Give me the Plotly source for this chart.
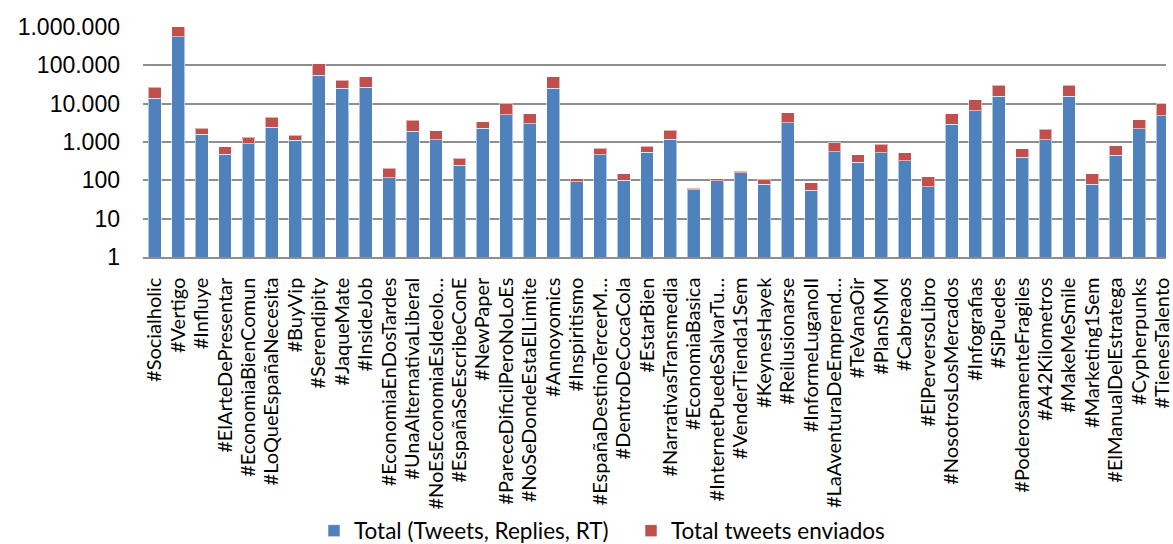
import plotly.graph_objects as go

# Hashtags on the category axis
hashtags = [
    "#Socialholic", "#Vertigo", "#Influye", "#ElArteDePresentar", "#EconomiaBienComun",
    "#LoQueEspañaNecesita", "#BuyVip", "#Serendipity", "#JaqueMate", "#InsideJob",
    "#EconomiaEnDosTardes", "#UnaAlternativaLiberal", "#NoEsEconomiaEsIdeolo…",
    "#EspañaSeEscribeConE", "#NewPaper", "#PareceDificilPeroNoLoEs", "#NoSeDondeEstaElLimite",
    "#Annoyomics", "#Inspiritismo", "#EspañaDestinoTercerM…", "#DentroDeCocaCola",
    "#EstarBien", "#NarrativasTransmedia", "#EconomiaBasica", "#InternetPuedeSalvarTu…",
    "#VenderTienda1Sem", "#KeynesHayek", "#Reilusionarse", "#InformeLuganoII",
    "#LaAventuraDeEmprend…", "#TeVanaOir", "#PlanSMM", "#Cabreaos", "#ElPerversoLibro",
    "#NosotrosLosMercados", "#Infografias", "#SiPuedes", "#PoderosamenteFragiles",
    "#A42Kilometros", "#MakeMeSmile", "#Marketing1Sem", "#ElManualDelEstratega",
    "#Cypherpunks", "#TienesTalento",
]

# Total (Tweets, Replies, RT)
total_activity = [
    14000, 562000, 1580, 480, 890,
    2400, 1100, 55100, 24900, 27000,
    115, 1890, 1150,
    244, 2250, 5200, 2980,
    25400, 91, 470, 100,
    540, 1170, 57, 96,
    155, 79, 3160, 55,
    550, 298, 530, 323, 67,
    2860, 6600, 15800, 401,
    1150, 15500, 79, 452,
    2210, 4890,
]

# Total tweets enviados (stacked on top)
tweets_sent = [
    12400, 440000, 680, 277, 434,
    1950, 382, 55300, 16000, 22900,
    93, 1820, 814,
    134, 1100, 5000, 2530,
    25500, 17, 216, 49,
    232, 831, 5, 12,
    19, 27, 2690, 30,
    391, 163, 341, 207, 55,
    2650, 5850, 14000, 258,
    978, 14900, 70, 352,
    1640, 4900,
]

y_tick_vals = [1, 10, 100, 1000, 10000, 100000, 1000000]
y_tick_text = ["1", "10", "100", "1.000", "10.000", "100.000", "1.000.000"]

series_names = ["Total (Tweets, Replies, RT)", "Total tweets enviados"]
blue = "#4F81BD"
red = "#C0504D"

x_idx = list(range(len(hashtags)))

fig = go.Figure()
fig.add_trace(go.Bar(
    x=x_idx, y=total_activity, name=series_names[0],
    marker=dict(color=blue, line=dict(color="rgba(255,255,255,0.55)", width=1)),
))
fig.add_trace(go.Bar(
    x=x_idx, y=tweets_sent, name=series_names[1],
    marker=dict(color=red, line=dict(color="rgba(255,255,255,0.55)", width=1)),
))

grid = "#8E8E8E"

fig.update_layout(
    barmode="stack",
    bargap=0.45,
    width=1173, height=544,
    margin=dict(l=143, r=0, t=27, b=285),
    paper_bgcolor="white", plot_bgcolor="white",
    font=dict(family="Lato", color="black"),
    showlegend=True,
    legend=dict(
        orientation="h",
        xref="container", yref="container",
        x=314 / 1173, xanchor="left",
        y=1 - 531 / 544, yanchor="middle",
        font=dict(family="Lato", size=22.5, color="black"),
        traceorder="normal",
        itemclick=False,
        entrywidth=272,
    ),
)

fig.update_xaxes(
    tickmode="array", tickvals=x_idx, ticktext=hashtags,
    tickangle=-90,
    tickfont=dict(family="Lato", size=20, color="black"),
    range=[-0.5, 43.14],
    showgrid=False,
    showline=True, linecolor=grid, linewidth=1.5,
    ticks="", ticklabelstandoff=11,
    ticklabeloverflow="allow",
)

fig.update_yaxes(
    type="log",
    range=[0, 6],
    tickmode="array", tickvals=y_tick_vals, ticktext=y_tick_text,
    tickfont=dict(family="Liberation Sans", size=23, color="black"),
    showgrid=True, gridcolor=grid, gridwidth=1.5,
    zeroline=False, showline=False,
    ticks="", ticklabelstandoff=22,
)

fig.write_html("out.html")
